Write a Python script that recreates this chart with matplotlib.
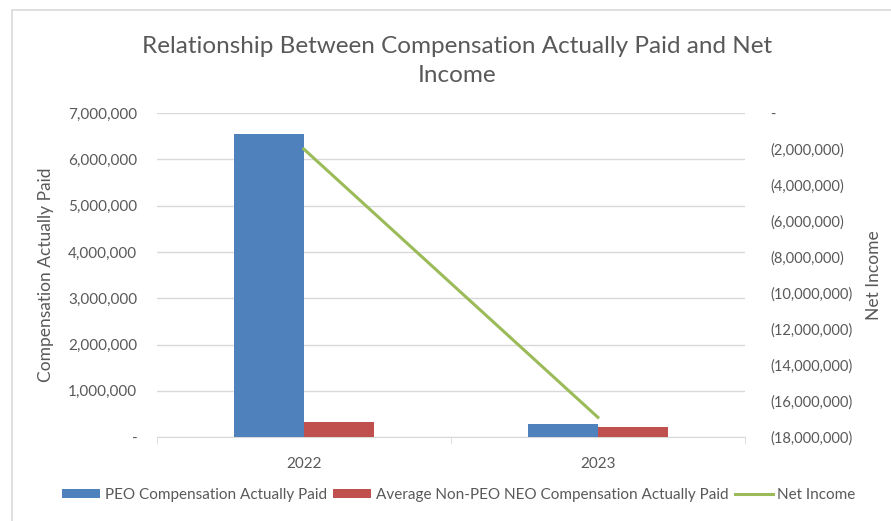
import numpy as np
import matplotlib.pyplot as plt
from matplotlib.ticker import FuncFormatter, MultipleLocator, FixedLocator
from matplotlib.patches import Rectangle

# Chart data
years = ['2022', '2023']
peo_cap = [6550000, 280000]
non_peo_cap = [320000, 220000]
net_income = [-2000000, -16900000]

# Styling
blue = '#4F81BD'
red = '#C0504D'
green = '#9BBB59'
text_gray = '#595959'
grid_gray = '#D9D9D9'

plt.rcParams['font.family'] = ['Lato', 'DejaVu Sans']

fig = plt.figure(figsize=(8.91, 5.21), dpi=100)
ax = fig.add_axes([0.176, 0.161, 0.66, 0.622])

x = np.arange(len(years))
bar_w = 0.238
ax.bar(x - bar_w / 2, peo_cap, bar_w, color=blue, label='PEO Compensation Actually Paid', zorder=3)
ax.bar(x + bar_w / 2, non_peo_cap, bar_w, color=red, label='Average Non-PEO NEO Compensation Actually Paid', zorder=3)

ax.set_xlim(-0.5, 1.5)
ax.set_ylim(0, 7000000)
ax.yaxis.set_major_locator(MultipleLocator(1000000))
ax.yaxis.set_major_formatter(FuncFormatter(lambda v, p: '-' if v == 0 else f'{v:,.0f}'))
ax.grid(axis='y', color=grid_gray, linewidth=1, zorder=0)
ax.set_xticks(x)
ax.set_xticklabels(years)
ax.xaxis.set_minor_locator(FixedLocator([-0.5, 0.5, 1.5]))
ax.tick_params(axis='x', which='major', length=0, pad=14, labelsize=11, labelcolor=text_gray)
ax.tick_params(axis='x', which='minor', length=5, color=grid_gray)
ax.tick_params(axis='y', length=0, pad=14, labelsize=11, labelcolor=text_gray)
for s in ['top', 'right', 'left']:
    ax.spines[s].set_visible(False)
ax.spines['bottom'].set_color(grid_gray)
ax.set_ylabel('Compensation Actually Paid', color=text_gray, fontsize=12.5, labelpad=10)

ax2 = ax.twinx()
ax2.plot(x, net_income, color=green, linewidth=2.2, label='Net Income', zorder=4)
ax2.set_ylim(-18000000, 0)
ax2.yaxis.set_major_locator(MultipleLocator(2000000))
ax2.yaxis.set_major_formatter(FuncFormatter(lambda v, p: '-' if v == 0 else f'({abs(v):,.0f})'))
ax2.tick_params(axis='y', length=0, pad=18, labelsize=10.5, labelcolor=text_gray)
for s in ax2.spines.values():
    s.set_visible(False)
ax2.set_ylabel('Net Income', color=text_gray, fontsize=12.5, labelpad=10)

fig.text(0.513, 0.883, 'Relationship Between Compensation Actually Paid and Net\nIncome',
         ha='center', va='center', fontsize=17.5, color=text_gray, linespacing=1.5)

h1, l1 = ax.get_legend_handles_labels()
h2, l2 = ax2.get_legend_handles_labels()
fig.legend(h1 + h2, l1 + l2, loc='center', bbox_to_anchor=(0.515, 0.05), ncol=3,
           frameon=False, fontsize=11, labelcolor=text_gray, handlelength=2.5,
           handleheight=0.6, columnspacing=0.4, handletextpad=0.3)

# outer chart border
fig.patches.append(Rectangle((12 / 891, -0.1), 1.0, 1 - 10 / 521 + 0.1, transform=fig.transFigure,
                             fill=False, edgecolor=grid_gray, linewidth=1.2))

fig.savefig('out.png', dpi=100)
